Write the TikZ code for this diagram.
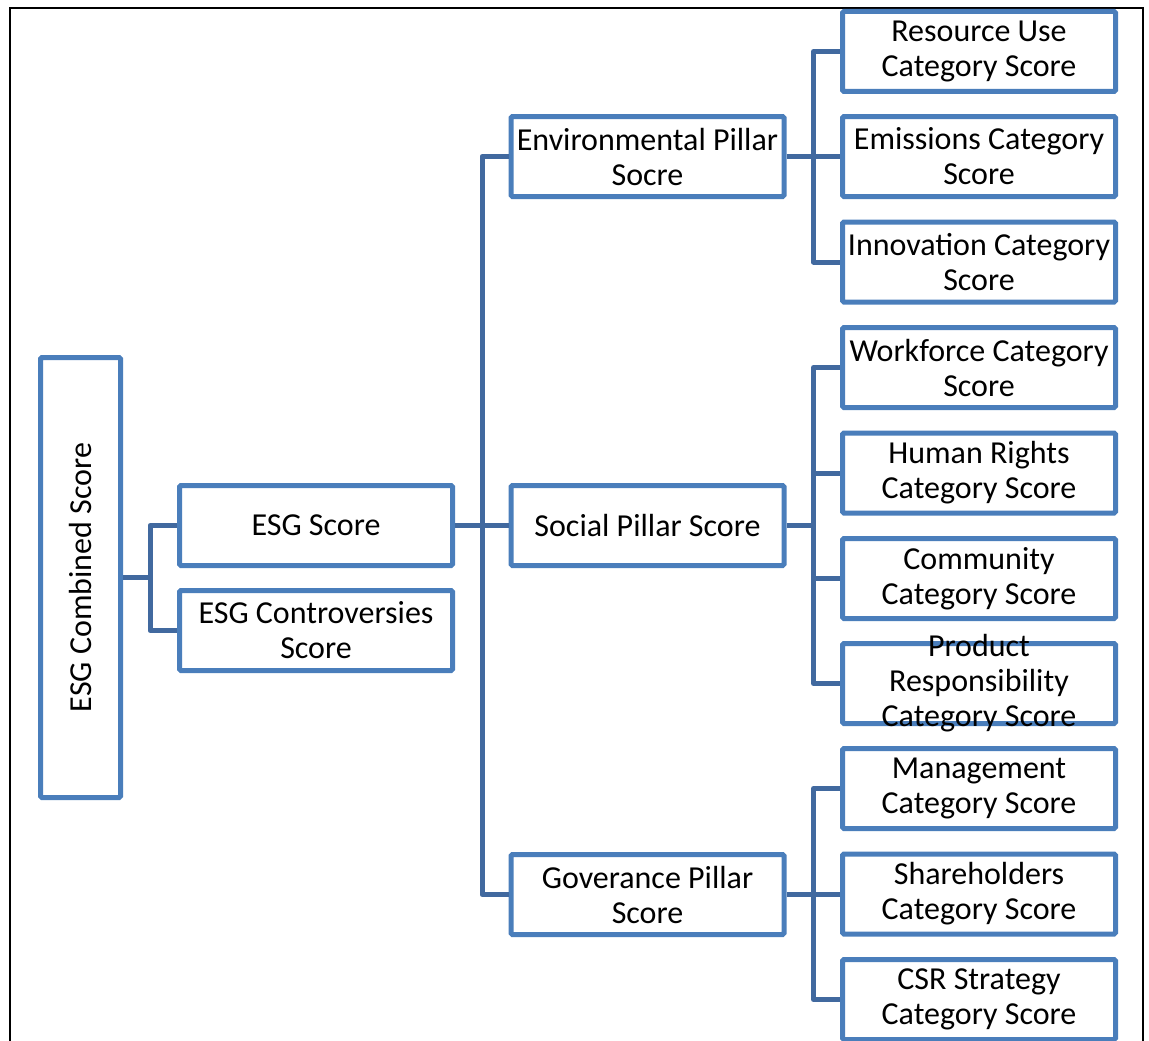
\documentclass[tikz,border=0pt]{standalone}
\usepackage{fontspec}
\setmainfont{Carlito}
\definecolor{boxblue}{HTML}{4A7EBB}
\definecolor{linkblue}{HTML}{41699F}
\begin{document}
\begin{tikzpicture}[x=1pt,y=-1pt,
  box/.style={draw=boxblue, line width=5pt, rounded corners=1.5pt, fill=white,
    align=center, inner sep=0pt, font=\fontsize{32}{35}\selectfont},
  catbox/.style={box, minimum width=273pt, minimum height=80pt},
  midbox/.style={box, minimum width=273pt, minimum height=80pt},
  conn/.style={draw=linkblue, line width=5pt, line join=round},
  plain/.style={align=center, inner sep=0pt, font=\fontsize{32}{35}\selectfont}]
\useasboundingbox (0,0) rectangle (1149,1041);
\clip (0,0) rectangle (1149,1041);

% outer frame
\draw[black, line width=2.5pt] (10,1050) -- (10,8) -- (1143,8) -- (1143,1050);

% root
\node[box, minimum width=80pt, minimum height=440pt] (comb) at (80.5,577.5)
  {\rotatebox{90}{ESG Combined Score}};

% second level
\node[midbox] (esg) at (316,525.5) {ESG Score};
\node[midbox] (contr) at (316,630.5) {ESG Controversies\\Score};

% pillars
\node[midbox] (env) at (647.5,156.5) {Environmental Pillar\\Socre};
\node[midbox] (soc) at (647.5,525.5) {Social Pillar Score};
\node[midbox] (gov) at (647.5,894.5) {Goverance Pillar\\Score};

% categories
\node[catbox] (c1) at (979,51.5)  {Resource Use\\Category Score};
\node[catbox] (c2) at (979,156.5) {Emissions Category\\Score};
\node[catbox] (c3) at (979,262)   {Innovation Category\\Score};
\node[catbox] (c4) at (979,367.5) {Workforce Category\\Score};
\node[catbox] (c5) at (979,473)   {Human Rights\\Category Score};
\node[catbox] (c6) at (979,578.5) {Community\\Category Score};
\node[catbox] (c7) at (979,683.5) {};
\node[plain] (c7t) at (c7.center) {Product\\Responsibility\\Category Score};
\node[catbox] (c8) at (979,788.5) {Management\\Category Score};
\node[catbox] (c9) at (979,894)   {Shareholders\\Category Score};
\node[catbox] (c10) at (979,999.5) {CSR Strategy\\Category Score};

% connectors
\draw[conn] (comb.east) -- ++(27,0) coordinate (b0);
\draw[conn] (b0) |- (esg.west);
\draw[conn] (b0) |- (contr.west);

\draw[conn] (esg.east) -- ++(27,0) coordinate (b1);
\draw[conn] (b1) |- (env.west);
\draw[conn] (b1) |- (soc.west);
\draw[conn] (b1) |- (gov.west);

\draw[conn] (env.east) -- ++(27,0) coordinate (b2);
\foreach \c in {c1,c2,c3} \draw[conn] (b2) |- (\c.west);

\draw[conn] (soc.east) -- ++(27,0) coordinate (b3);
\foreach \c in {c4,c5,c6,c7} \draw[conn] (b3) |- (\c.west);

\draw[conn] (gov.east) -- ++(27,0) coordinate (b4);
\foreach \c in {c8,c9,c10} \draw[conn] (b4) |- (\c.west);
\end{tikzpicture}
\end{document}
